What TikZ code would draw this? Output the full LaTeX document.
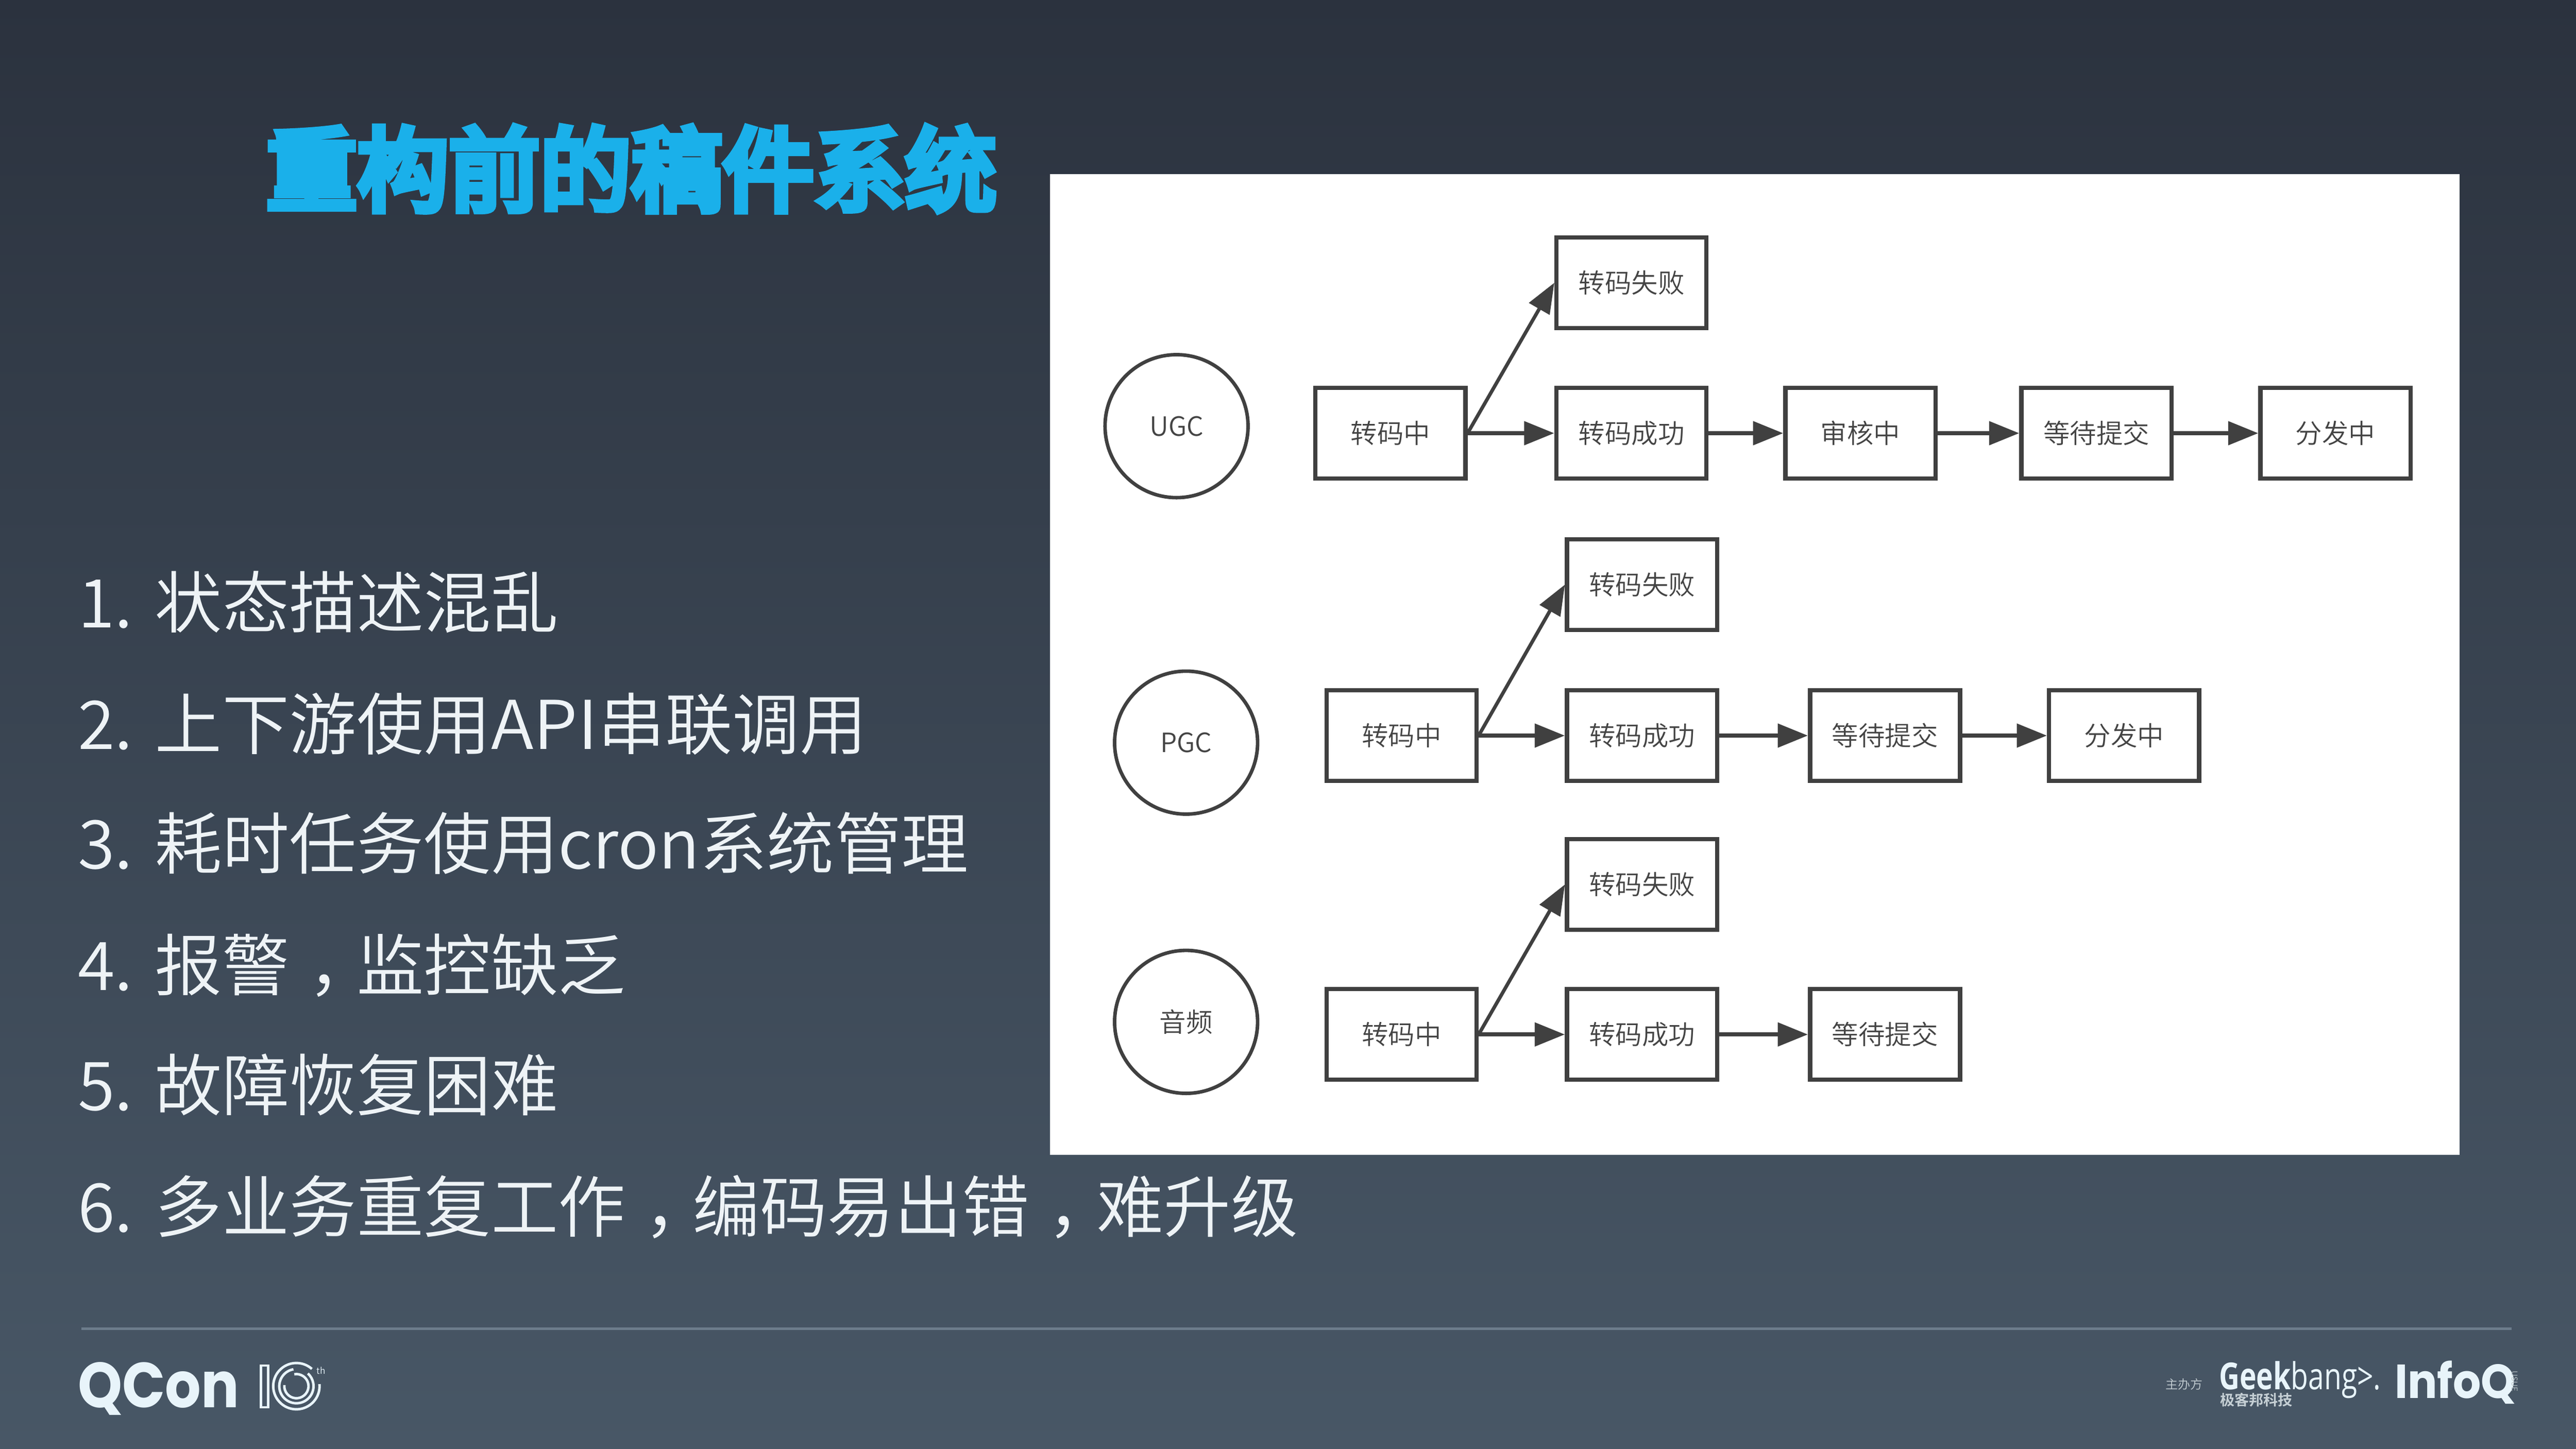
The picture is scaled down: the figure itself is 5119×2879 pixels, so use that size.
\documentclass[tikz,border=0pt]{standalone}
\usepackage{fontspec}
\usetikzlibrary{arrows.meta}
\setmainfont{Noto Sans CJK SC DemiLight}
\newfontfamily\titlefont[FakeBold=8]{Noto Sans CJK SC}
\newfontfamily\logofont{Poppins}
\newfontfamily\gbfont{Open Sans}
\newfontfamily\cjkbold{Noto Sans CJK SC Bold}
\newcommand{\cncomma}{\hspace{.28em}，\hspace{-.28em}}
\definecolor{bgtop}{HTML}{2B323E}
\definecolor{bgbot}{HTML}{485766}
\definecolor{titleblue}{HTML}{1AB0EA}
\definecolor{bodytext}{HTML}{EEF3F6}
\definecolor{logotext}{HTML}{E8F4FA}
\definecolor{rulecol}{HTML}{6C7C8B}
\definecolor{ink}{HTML}{404040}
\definecolor{boxtext}{HTML}{444444}
\tikzset{
  x=0.01cm,y=-0.01cm,
  stateframe/.style={draw=ink,line width=0.085cm,fill=white,minimum width=2.98cm,minimum height=1.80cm,inner sep=0pt,
    text=boxtext,font=\fontsize{15}{15}\selectfont},
  source/.style={circle,draw=ink,line width=0.07cm,minimum size=2.84cm,inner sep=0pt,text=boxtext,font=\fontsize{15}{15}\selectfont},
  flow/.style={draw=ink,line width=0.085cm,-{Triangle[length=0.6cm,width=0.46cm]}},
  failflow/.style={draw=ink,line width=0.07cm,-{Triangle[length=0.6cm,width=0.46cm]}},
  listline/.style={anchor=base west,inner sep=0pt,text=bodytext,font=\fontsize{38}{38}\selectfont},
  logotxt/.style={inner sep=0pt,text=logotext},
  ring/.style={draw=logotext,line width=0.05cm,fill=none}
}
\begin{document}
\begin{tikzpicture}
\useasboundingbox (0,0) rectangle (5119,2879);
\shade[top color=bgtop,bottom color=bgbot,shading angle=0] (0,0) rectangle (5119,2879);
\fill[white] (2086,346) rectangle (4888,2295);

\node[anchor=base west,inner sep=0pt,text=titleblue,font=\titlefont\fontsize{51.6}{52}\selectfont] (title) at (528,405) {重构前的稿件系统};

\node[listline] (l1) at (154,1248) {\makebox[1.53cm][l]{1.}状态描述混乱};
\node[listline] (l2) at (154,1489) {\makebox[1.53cm][l]{2.}上下游使用\scalebox{1.05}[1]{API}串联调用};
\node[listline] (l3) at (154,1727) {\makebox[1.53cm][l]{3.}耗时任务使用\scalebox{1.01}[1]{cron}系统管理};
\node[listline] (l4) at (154,1968) {\makebox[1.53cm][l]{4.}报警\cncomma 监控缺乏};
\node[listline] (l5) at (154,2207) {\makebox[1.53cm][l]{5.}故障恢复困难};
\node[listline] (l6) at (154,2448) {\makebox[1.53cm][l]{6.}多业务重复工作\cncomma 编码易出错\cncomma 难升级};

% row 1
\node[source] (ugc) at (2338,847) {UGC};
\node[stateframe] (a1) at (2763,861) {转码中};
\node[stateframe] (a2) at (3242,861) {转码成功};
\node[stateframe] (af) at (3242,562) {转码失败};
\node[stateframe] (a3) at (3697,861) {审核中};
\node[stateframe] (a4) at (4166,861) {等待提交};
\node[stateframe] (a5) at (4641,861) {分发中};
\draw[flow] (a1.east) -- (a2.west);
\draw[failflow] (a1.east) -- (af.west);
\draw[flow] (a2.east) -- (a3.west);
\draw[flow] (a3.east) -- (a4.west);
\draw[flow] (a4.east) -- (a5.west);

% row 2
\node[source] (pgc) at (2357,1476) {PGC};
\node[stateframe] (b1) at (2785,1462) {转码中};
\node[stateframe] (b2) at (3263,1462) {转码成功};
\node[stateframe] (bf) at (3263,1162) {转码失败};
\node[stateframe] (b3) at (3746,1462) {等待提交};
\node[stateframe] (b4) at (4221,1462) {分发中};
\draw[flow] (b1.east) -- (b2.west);
\draw[failflow] (b1.east) -- (bf.west);
\draw[flow] (b2.east) -- (b3.west);
\draw[flow] (b3.east) -- (b4.west);

% row 3
\node[source] (aud) at (2357,2031) {音频};
\node[stateframe] (c1) at (2785,2056) {转码中};
\node[stateframe] (c2) at (3263,2056) {转码成功};
\node[stateframe] (cf) at (3263,1758) {转码失败};
\node[stateframe] (c3) at (3746,2056) {等待提交};
\draw[flow] (c1.east) -- (c2.west);
\draw[failflow] (c1.east) -- (cf.west);
\draw[flow] (c2.east) -- (c3.west);

% footer
\coordinate (ruleL) at (162,2641);
\coordinate (ruleR) at (4991,2641);
\draw[rulecol,line width=0.05cm] (ruleL) -- (ruleR);

\node[logotxt,anchor=base west,font=\logofont\bfseries\fontsize{36}{36}\selectfont] (qcon) at (154,2798) {\scalebox{0.885}[1]{QCon}};
\draw[logotext,line width=0.05cm] (519,2714) rectangle (533,2797);
\coordinate (tenc) at (589,2755);
\draw[ring] ([shift={(48:0.46cm)}]tenc) arc[start angle=48,end angle=365,radius=0.46cm];
\draw[ring] ([shift={(100:0.34cm)}]tenc) arc[start angle=100,end angle=408,radius=0.34cm];
\draw[ring] ([shift={(175:0.24cm)}]tenc) arc[start angle=175,end angle=460,radius=0.24cm];
\node[logotxt,font=\fontsize{5}{5}\selectfont] (th) at (638,2724) {th};

\node[logotxt,text=logotext!85!black,font=\fontsize{7}{7}\selectfont] (host) at (4340,2751) {主办方};
\node[logotxt,anchor=base west,font=\gbfont\fontsize{21}{21}\selectfont] (geek) at (4409,2762) {\scalebox{0.765}[1]{\textbf{Geek}bang>.}};
\node[logotxt,text=logotext!85!black,anchor=west,font=\cjkbold\fontsize{8.2}{8.2}\selectfont] (gbcn) at (4411,2782) {极客邦科技};
\node[logotxt,anchor=base west,font=\logofont\bfseries\fontsize{27}{27}\selectfont] (infoq) at (4758,2779) {\scalebox{0.92}[1]{InfoQ}};
\node[logotxt,rotate=-90,text=logotext!80!black,font=\fontsize{4.5}{4.5}\selectfont] (qtag) at (4997,2745) {USUE};
\end{tikzpicture}
\end{document}
